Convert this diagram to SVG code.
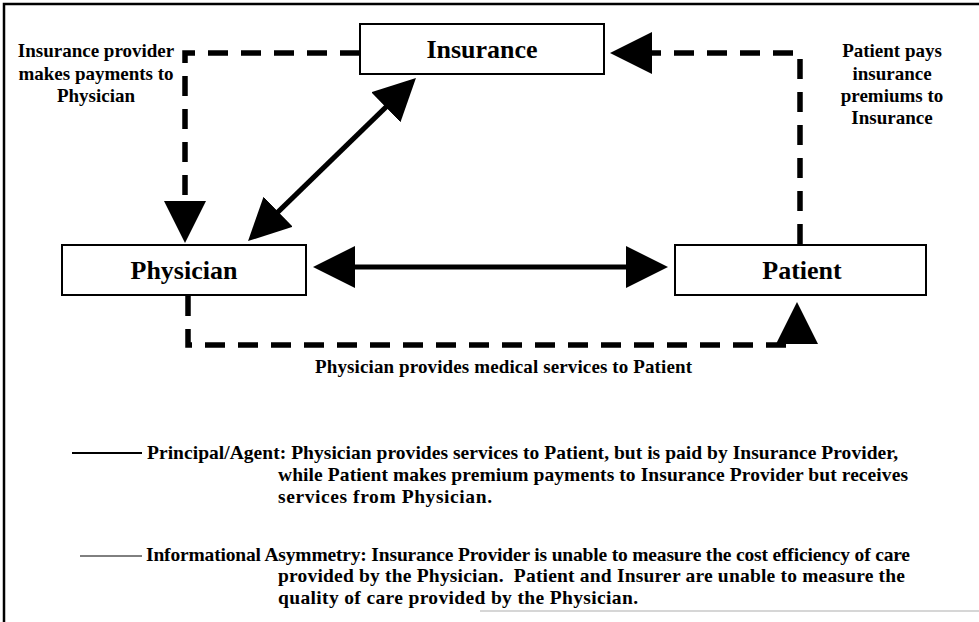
<svg xmlns="http://www.w3.org/2000/svg" width="979" height="622" viewBox="0 0 979 622">
<style>
.box{fill:#fff;stroke:#000;stroke-width:2}
.nl{font-family:"Liberation Serif","Times New Roman",serif;font-weight:bold;font-size:26px;fill:#000;text-anchor:middle}
.lb{font-family:"Liberation Serif","Times New Roman",serif;font-weight:bold;font-size:19px;fill:#000}
.lg{font-size:19.5px}
.mid{text-anchor:middle}
.dash{fill:none;stroke:#000;stroke-width:5.5;stroke-dasharray:20 13}
.solid{fill:none;stroke:#000;stroke-width:5}
</style>
<defs>
<marker id="ah" markerUnits="userSpaceOnUse" viewBox="0 0 42 42" markerWidth="42" markerHeight="42" refX="22" refY="21" orient="auto-start-reverse">
<path d="M0,0 L42,21 L0,42 z" fill="#000"/>
</marker>
</defs>
<rect width="979" height="622" fill="#fff"/>
<g id="frame">
<path d="M4,622 V4 H979" fill="none" stroke="#000" stroke-width="2.5"/>
<line x1="480" y1="611" x2="979" y2="611" stroke="#c8c8c8" stroke-width="1.5"/>
</g>
<g id="connectors">
<path class="dash" d="M360,53 H185 V223" marker-end="url(#ah)"/>
<path class="dash" d="M800,244 V53 H630" marker-end="url(#ah)"/>
<path class="dash" d="M188,296 V345 H797 V322" marker-end="url(#ah)"/>
<path class="solid" d="M333,267 H648" marker-start="url(#ah)" marker-end="url(#ah)"/>
<path class="solid" d="M262.4,227.1 L401.6,91.9" marker-start="url(#ah)" marker-end="url(#ah)"/>
<text class="lb mid" x="96" y="57">Insurance provider</text>
<text class="lb mid" x="96" y="80">makes payments to</text>
<text class="lb mid" x="96" y="102">Physician</text>
<text class="lb mid" x="892" y="57">Patient pays</text>
<text class="lb mid" x="892" y="80">insurance</text>
<text class="lb mid" x="892" y="102">premiums to</text>
<text class="lb mid" x="892" y="124">Insurance</text>
<text class="lb" x="315" y="373" textLength="377" lengthAdjust="spacing">Physician provides medical services to Patient</text>
</g>
<g id="insurance">
<rect class="box" x="360" y="24" width="244" height="50"/>
<text class="nl" x="482" y="58">Insurance</text>
</g>
<g id="physician">
<rect class="box" x="62" y="245" width="244" height="50"/>
<text class="nl" x="184" y="279">Physician</text>
</g>
<g id="patient">
<rect class="box" x="675" y="245" width="251" height="50"/>
<text class="nl" x="802" y="279">Patient</text>
</g>
<g id="legend">
<line x1="72" y1="453" x2="142" y2="453" stroke="#000" stroke-width="2"/>
<text class="lb lg" x="147" y="459" textLength="751" lengthAdjust="spacing">Principal/Agent: Physician provides services to Patient, but is paid by Insurance Provider,</text>
<text class="lb lg" x="278" y="481" textLength="630" lengthAdjust="spacing">while Patient makes premium payments to Insurance Provider but receives</text>
<text class="lb lg" x="278" y="503" textLength="214" lengthAdjust="spacing">services from Physician.</text>
<line x1="80" y1="556" x2="142" y2="556" stroke="#000" stroke-width="1"/>
<text class="lb lg" x="146" y="561" textLength="764" lengthAdjust="spacing">Informational Asymmetry: Insurance Provider is unable to measure the cost efficiency of care</text>
<text class="lb lg" x="278" y="582" textLength="627" lengthAdjust="spacing" xml:space="preserve">provided by the Physician.  Patient and Insurer are unable to measure the</text>
<text class="lb lg" x="278" y="604" textLength="360" lengthAdjust="spacing">quality of care provided by the Physician.</text>
</g>
</svg>
